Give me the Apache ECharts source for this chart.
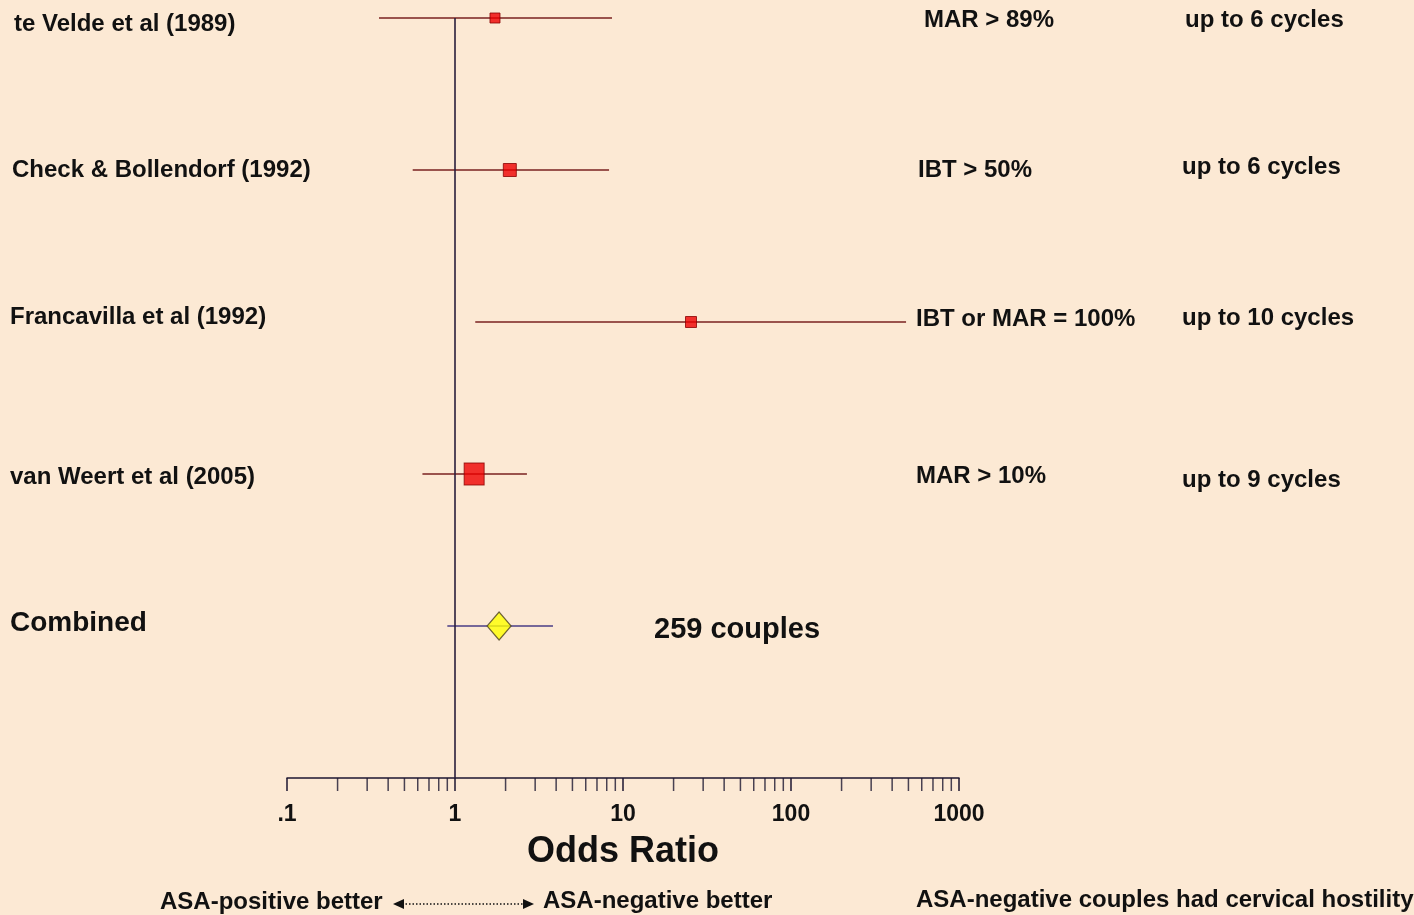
<!DOCTYPE html>
<html>
<head>
<meta charset="utf-8">
<script src="https://cdn.jsdelivr.net/npm/echarts@6/dist/echarts.min.js"></script>
<style>
html,body{margin:0;padding:0;background:#fce9d4;}
#chart{width:1414px;height:915px;}
</style>
</head>
<body>
<div id="chart"></div>
<script>
// ---- data ----
const studies = ['te Velde et al (1989)', 'Check & Bollendorf (1992)', 'Francavilla et al (1992)', 'van Weert et al (2005)', 'Combined'];
const rowPos = [5, 4, 3, 2, 1];
const oddsRatio = [1.73, 2.12, 25.4, 1.30, 1.83];
const ciLow = [0.353, 0.56, 1.32, 0.64, 0.90];
const ciHigh = [8.6, 8.26, 484, 2.68, 3.83];
const markerSize = [[10, 10], [13, 13], [11, 11], [20, 22], [24, 28]];
const methods = ['MAR > 89%', 'IBT > 50%', 'IBT or MAR = 100%', 'MAR > 10%'];
const cycles = ['up to 6 cycles', 'up to 6 cycles', 'up to 10 cycles', 'up to 9 cycles'];
const combinedNote = '259 couples';
const majorTicks = [0.1, 1, 10, 100, 1000];
const majorTickLabels = ['.1', '1', '10', '100', '1000'];
const minorTicks = [0.2,0.3,0.4,0.5,0.6,0.7,0.8,0.9, 2,3,4,5,6,7,8,9, 20,30,40,50,60,70,80,90, 200,300,400,500,600,700,800,900];
const axisTitle = 'Odds Ratio';
const leftNote = 'ASA-positive better';
const rightNote = 'ASA-negative better';
const farNote = 'ASA-negative couples had cervical hostility';

// ---- chart ----
const FONT = '"Liberation Sans", Arial, sans-serif';
const chart = echarts.init(document.getElementById('chart'));
const axisColor = '#1c1630';

const studyIdx = [0, 1, 2, 3];
const ciData = studies.map((s, i) => [ciLow[i], ciHigh[i], rowPos[i], i]);

const methodY = [20, 170, 319, 476];
const methodX = [924, 918, 916, 916];
const cycleY = [20, 167, 318, 480];
const cycleX = [1185, 1182, 1182, 1182];

const graphics = [];
methods.forEach((m, i) => {
  graphics.push({type: 'text', left: methodX[i], top: methodY[i] - 12,
    style: {text: m, font: 'bold 24px ' + FONT, fill: '#111'}});
  graphics.push({type: 'text', left: cycleX[i], top: cycleY[i] - 12,
    style: {text: cycles[i], font: 'bold 24px ' + FONT, fill: '#111'}});
});
graphics.push({type: 'text', left: 654, top: 615,
  style: {text: combinedNote, font: 'bold 29px ' + FONT, fill: '#111'}});
graphics.push({type: 'text', left: 160, top: 890,
  style: {text: leftNote, font: 'bold 24px ' + FONT, fill: '#111'}});
graphics.push({type: 'text', left: 543, top: 889,
  style: {text: rightNote, font: 'bold 24px ' + FONT, fill: '#111'}});
graphics.push({type: 'text', left: 916, top: 888,
  style: {text: farNote, font: 'bold 24px ' + FONT, fill: '#111'}});
// dotted double arrow
graphics.push({type: 'line', shape: {x1: 402, y1: 904, x2: 524, y2: 904},
  style: {stroke: '#111', lineWidth: 1.5, lineDash: [1.5, 2]}});
graphics.push({type: 'polygon', shape: {points: [[393, 904], [404, 899], [404, 909]]}, style: {fill: '#111'}});
graphics.push({type: 'polygon', shape: {points: [[534, 904], [523, 899], [523, 909]]}, style: {fill: '#111'}});

const labelRich = {
  r0: {fontFamily: FONT, fontWeight: 'bold', fontSize: 24, color: '#111', padding: [12, 0, 0, 4]},
  r1: {fontFamily: FONT, fontWeight: 'bold', fontSize: 24, color: '#111', padding: [0, 0, 0, 2]},
  r2: {fontFamily: FONT, fontWeight: 'bold', fontSize: 24, color: '#111', padding: [0, 0, 10, 0]},
  r3: {fontFamily: FONT, fontWeight: 'bold', fontSize: 24, color: '#111', padding: [6, 0, 0, 0]},
  r4: {fontFamily: FONT, fontWeight: 'bold', fontSize: 28, color: '#111', padding: [0, 0, 6, 0]}
};

chart.setOption({
  backgroundColor: '#fce9d4',
  animation: false,
  graphic: graphics,
  grid: {left: 287, right: 455, top: 18, bottom: 137, containLabel: false, outerBoundsMode: 'none'},
  xAxis: {
    type: 'log', logBase: 10, min: 0.1, max: 1000,
    axisLine: {show: true, lineStyle: {color: axisColor, width: 1.5}},
    axisTick: {show: true, length: 13, lineStyle: {color: axisColor, width: 1.5}},
    splitLine: {show: false},
    axisLabel: {
      margin: 25, fontFamily: FONT, fontWeight: 'bold', fontSize: 23, color: '#111',
      formatter: v => {
        const k = majorTicks.findIndex(t => Math.abs(Math.log10(t) - Math.log10(v)) < 1e-6);
        return k >= 0 ? majorTickLabels[k] : '';
      }
    },
    name: axisTitle, nameLocation: 'middle', nameGap: 56,
    nameTextStyle: {fontFamily: FONT, fontWeight: 'bold', fontSize: 36, color: '#111'}
  },
  yAxis: {
    type: 'value', min: 0, max: 5, interval: 1,
    axisLine: {show: false}, axisTick: {show: false}, splitLine: {show: false},
    axisLabel: {
      align: 'left', margin: 277, color: '#111',
      fontFamily: FONT, fontWeight: 'bold', fontSize: 24,
      formatter: v => {
        const k = rowPos.indexOf(v);
        if (k < 0) return '';
        return '{r' + k + '|' + studies[k] + '}';
      },
      rich: labelRich
    }
  },
  series: [
    {
      type: 'scatter', silent: true, clip: false, z: 1,
      symbol: 'rect', symbolSize: [1.5, 13], symbolOffset: [0, 6.5],
      itemStyle: {color: axisColor},
      data: minorTicks.map(v => [v, 0]),
      markLine: {
        silent: true, symbol: ['none', 'none'], label: {show: false},
        lineStyle: {color: '#2a1e3c', width: 1.6, type: 'solid'},
        data: [{xAxis: 1}]
      }
    },
    {
      type: 'custom', silent: true, z: 3,
      renderItem: (params, api) => {
        const a = api.coord([api.value(0), api.value(2)]);
        const b = api.coord([api.value(1), api.value(2)]);
        const comb = api.value(3) === 4;
        return {type: 'line', shape: {x1: a[0], y1: a[1], x2: b[0], y2: b[1]},
          style: {stroke: comb ? '#4a3d86' : '#7a2020', lineWidth: 1.6}};
      },
      encode: {x: [0, 1], y: 2},
      data: ciData
    },
    {
      type: 'scatter', silent: true, z: 5, symbol: 'rect',
      itemStyle: {color: '#ee0000', borderColor: '#8a0000', borderWidth: 1},
      data: studyIdx.map(i => ({value: [oddsRatio[i], rowPos[i]], symbolSize: markerSize[i]}))
    },
    {
      type: 'scatter', silent: true, z: 5, symbol: 'diamond',
      itemStyle: {color: '#ffff00', borderColor: '#4a4020', borderWidth: 1.2},
      data: [{value: [oddsRatio[4], rowPos[4]], symbolSize: markerSize[4]}]
    }
  ]
});
</script>
</body>
</html>
